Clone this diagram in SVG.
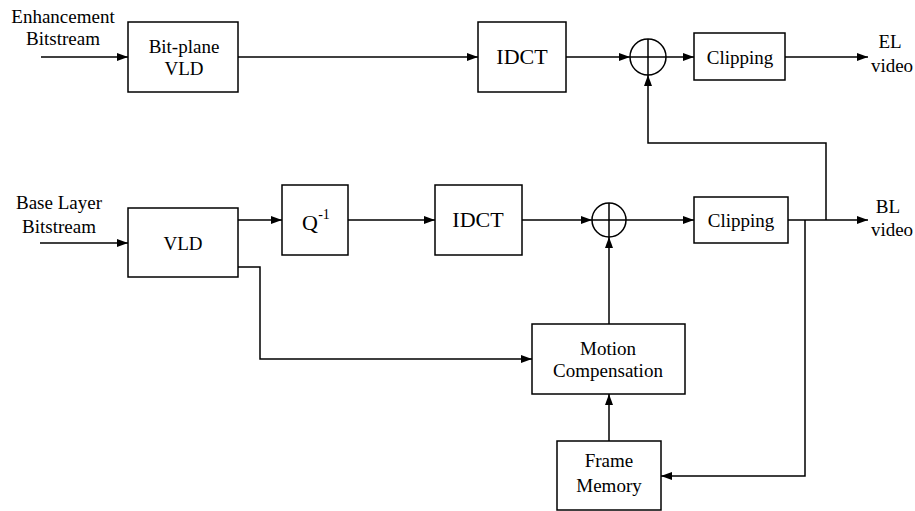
<svg xmlns="http://www.w3.org/2000/svg" width="915" height="511" viewBox="0 0 915 511">
<style>
.box{fill:#fff;stroke:#000;stroke-width:1.5}
.ln{fill:none;stroke:#000;stroke-width:1.5}
.ar{fill:none;stroke:#000;stroke-width:1.5;marker-end:url(#ah)}
text{font-family:'Liberation Serif',Tinos,'Times New Roman',Times,'DejaVu Serif',serif;font-size:19px;fill:#000;text-anchor:middle}
.big{font-size:22px}
</style>
<defs>
<marker id="ah" markerUnits="userSpaceOnUse" markerWidth="12" markerHeight="10" refX="11" refY="4" orient="auto">
<path d="M0,0 L11,4 L0,8 Z" fill="#000"/>
</marker>
</defs>
<rect width="915" height="511" fill="#fff"/>
<g id="connectors">
<path class="ar" d="M41,57 H128"/>
<path class="ar" d="M238,57 H478"/>
<path class="ar" d="M566,57 H630"/>
<path class="ar" d="M666,57 H694"/>
<path class="ar" d="M785,57 H868"/>
<path class="ar" d="M826,220 V143 H648 V75"/>
<path class="ar" d="M40,243 H128"/>
<path class="ar" d="M238,220 H282"/>
<path class="ar" d="M348,220 H435"/>
<path class="ar" d="M522,220 H592"/>
<path class="ar" d="M626,220 H694"/>
<path class="ar" d="M788,220 H868"/>
<path class="ar" d="M238,267 H260 V359 H532"/>
<path class="ar" d="M609,324 V237"/>
<path class="ar" d="M609,441 V394"/>
<path class="ar" d="M805,220 V476 H661"/>
</g>
<g id="label-enh">
<text x="63" y="23">Enhancement</text>
<text x="63" y="45">Bitstream</text>
</g>
<g id="bitplane-vld">
<rect class="box" x="128" y="22" width="110" height="70"/>
<text x="184" y="53">Bit-plane</text>
<text x="184" y="75">VLD</text>
</g>
<g id="idct-el">
<rect class="box" x="478" y="22" width="88" height="70"/>
<text class="big" x="522" y="64">IDCT</text>
</g>
<g id="sum-el">
<circle class="ln" cx="648" cy="57" r="18"/>
<path class="ln" d="M630,57 H666 M648,39 V75"/>
</g>
<g id="clip-el">
<rect class="box" x="694" y="33" width="91" height="47"/>
<text x="740" y="64">Clipping</text>
</g>
<g id="label-el">
<text x="890" y="48">EL</text>
<text x="892" y="72">video</text>
</g>
<g id="label-base">
<text x="59" y="209">Base Layer</text>
<text x="59" y="233">Bitstream</text>
</g>
<g id="vld">
<rect class="box" x="128" y="208" width="110" height="69"/>
<text x="183" y="250">VLD</text>
</g>
<g id="q-inv">
<rect class="box" x="282" y="185" width="66" height="70"/>
<text x="310" y="230" class="big">Q</text>
<text x="324" y="219" style="font-size:14px">-1</text>
</g>
<g id="idct-bl">
<rect class="box" x="435" y="185" width="87" height="70"/>
<text class="big" x="478" y="227">IDCT</text>
</g>
<g id="sum-bl">
<circle class="ln" cx="609" cy="220" r="17"/>
<path class="ln" d="M592,220 H626 M609,203 V237"/>
</g>
<g id="clip-bl">
<rect class="box" x="694" y="197" width="94" height="46"/>
<text x="741" y="227">Clipping</text>
</g>
<g id="label-bl">
<text x="888" y="213">BL</text>
<text x="892" y="236">video</text>
</g>
<g id="motion-comp">
<rect class="box" x="532" y="324" width="153" height="70"/>
<text x="608" y="355">Motion</text>
<text x="608" y="377">Compensation</text>
</g>
<g id="frame-memory">
<rect class="box" x="557" y="441" width="104" height="69"/>
<text x="609" y="467">Frame</text>
<text x="609" y="492">Memory</text>
</g>
</svg>
